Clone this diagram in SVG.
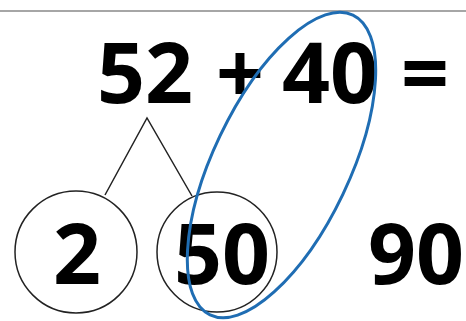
<svg xmlns="http://www.w3.org/2000/svg" width="466" height="321" viewBox="0 0 466 321">
<style>
.num{font-family:"Open Sans","Liberation Sans",sans-serif;font-weight:bold;font-size:84px;fill:#000;text-anchor:middle}
.circ{fill:none;stroke:#222;stroke-width:1.5}
.conn{stroke:#222;stroke-width:1.5;fill:none}
</style>
<rect width="466" height="321" fill="#fff"/>
<line x1="0" y1="11" x2="466" y2="11" stroke="#888" stroke-width="1.5"/>
<g id="equation">
<text class="num" x="145" y="103">52</text>
<text class="num" x="240" y="103">+</text>
<text class="num" x="330" y="103">40</text>
<text class="num" x="425" y="103">=</text>
</g>
<g id="connectors">
<polyline class="conn" points="105,195 147,118 192,196"/>
</g>
<g id="node-2">
<circle class="circ" cx="76" cy="252" r="61"/>
<text class="num" x="77" y="284">2</text>
</g>
<g id="node-50">
<circle class="circ" cx="217" cy="252" r="60"/>
<text class="num" x="222" y="284">50</text>
</g>
<g id="node-90">
<text class="num" x="416" y="284">90</text>
</g>
<g id="highlight">
<ellipse cx="281.5" cy="165" rx="68" ry="166" transform="rotate(25.5 281.5 165)" fill="none" stroke="#1f6db3" stroke-width="3"/>
</g>
</svg>
